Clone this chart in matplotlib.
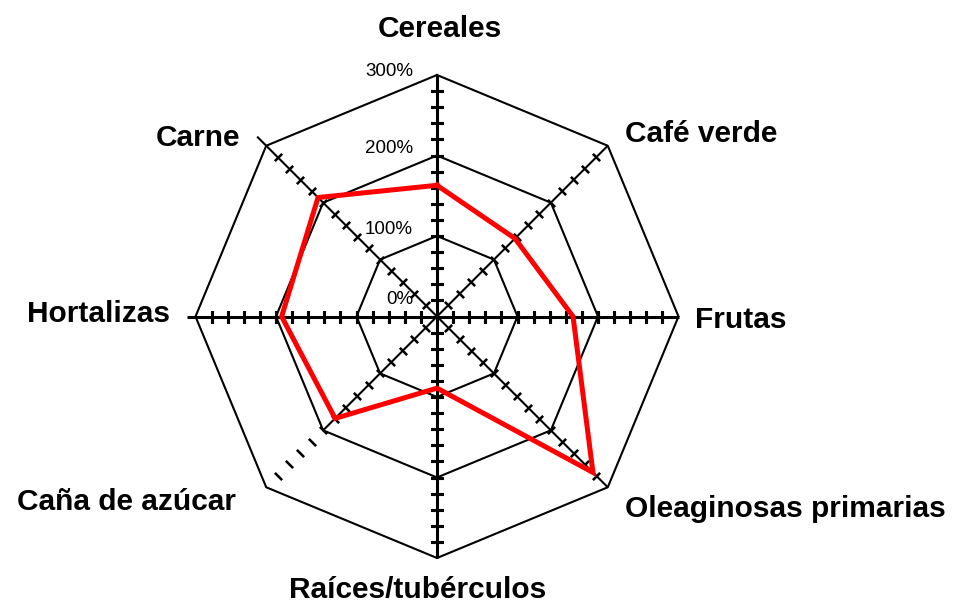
import numpy as np
import matplotlib.pyplot as plt

categories = ['Cereales', 'Café verde', 'Frutas', 'Oleaginosas primarias',
              'Raíces/tubérculos', 'Caña de azúcar', 'Hortalizas', 'Carne']
values = [163, 137, 169, 274, 89, 179, 193, 209]
rings = [100, 200, 300]
ring_labels = ['0%', '100%', '200%', '300%']
ring_values = [0, 100, 200, 300]

plt.rcParams['font.family'] = ['Liberation Sans', 'DejaVu Sans']

W, H = 954, 605
fig = plt.figure(figsize=(W / 100, H / 100), dpi=100)

# centre (437, 316.5) px, 300% at 241.5 px
cx, cy, rad = 437, 316.5, 241.5
ax = fig.add_axes([(cx - rad) / W, (H - cy - rad) / H, 2 * rad / W, 2 * rad / H],
                  projection='polar')
ax.set_theta_zero_location('N')
ax.set_theta_direction(-1)
ax.set_ylim(0, 300)
ax.grid(False)
ax.set_xticks([])
ax.set_yticks([])
ax.spines['polar'].set_visible(False)
ax.patch.set_visible(False)

n = len(categories)
angles = np.deg2rad(np.arange(n) * 360 / n)
closed = np.append(angles, angles[0])

# octagon grid
for r in rings:
    ax.plot(closed, [r] * len(closed), color='black', lw=1.5, clip_on=False)

# spokes with tick marks (the Caña spoke is broken in the original)
spoke_end = {'Caña de azúcar': 200, 'Carne': 316, 'Hortalizas': 310}
tick_r = np.arange(20, 300, 20)
for i, a in enumerate(angles):
    deg = i * 360 / n
    straight = i % 2 == 0
    end = spoke_end.get(categories[i], 300)
    ax.plot([a, a], [0, end], color='black', lw=2.2 if straight else 1.5,
            clip_on=False, solid_capstyle='butt')
    ax.plot([a] * len(tick_r), tick_r, ls='none', marker=(2, 2, 90 - deg),
            ms=8.6 if straight else 7, mew=2.2 if straight else 1.6,
            color='black', clip_on=False)

# data
ax.plot(closed, values + values[:1], color='#ff0000', lw=3.6, clip_on=False,
        zorder=5, solid_joinstyle='miter')

# radial labels
offs = [17, 7, 7, 3]
for lab, v, o in zip(ring_labels, ring_values, offs):
    ax.annotate(lab, xy=(0, v), xytext=(-24, o), textcoords='offset pixels',
                ha='right', va='center', fontsize=13.5, annotation_clip=False)

# category labels (pixel positions of the baseline)
lab_pos = [(440, 37, 'center'), (625, 142, 'left'), (695, 328, 'left'),
           (625, 517, 'left'), (418, 598, 'center'), (236, 510, 'right'),
           (170, 322, 'right'), (240, 146, 'right')]
for lab, (x, y, ha) in zip(categories, lab_pos):
    fig.text(x / W, 1 - y / H, lab, ha=ha, va='baseline', fontsize=21.5,
             fontweight='bold')

fig.savefig('out.png', dpi=100, facecolor='white')
